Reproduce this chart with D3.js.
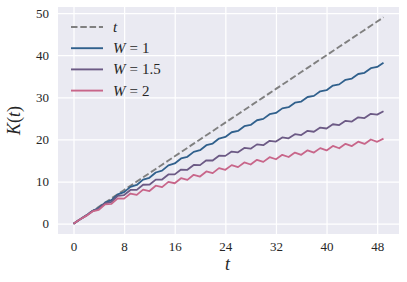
<!DOCTYPE html>
<html><head><meta charset="utf-8">
<script src="https://cdn.jsdelivr.net/npm/d3@7"></script>
<style>
html,body{margin:0;padding:0;background:#fff;}
svg text{font-family:"Liberation Serif","DejaVu Serif",serif;fill:#262626;}
</style></head>
<body><svg id="c" width="407" height="282"></svg>
<script>
const tValues = d3.range(0, 50);
const xTicks = [0, 8, 16, 24, 32, 40, 48];
const yTicks = [0, 10, 20, 30, 40, 50];
const seriesNames = ["t", "W = 1", "W = 1.5", "W = 2"];
const refLine = [0, 1,2,3,4,5,6,7,8,9,10,11,12,13,14,15,16,17,18,19,20,21,22,23,24,25,26,27,28,29,30,31,32,33,34,35,36,37,38,39,40,41,42,43,44,45,46,47,48,49];
const w1 = [0,1.0,1.95,3.0,3.8,5.0,5.6,6.95,7.5,8.75,9.2,10.45,10.9,12.15,12.6,13.85,14.3,15.49,15.88,17.06,17.45,18.64,19.03,20.21,20.6,21.71,22.03,23.14,23.45,24.56,24.88,25.99,26.3,27.38,27.65,28.73,29.0,30.08,30.35,31.43,31.7,32.79,33.08,34.17,34.46,35.54,35.83,36.92,37.21,38.2];
const w15 = [0,1.0,1.9,3.0,3.6,4.85,5.2,6.6,6.8,8.01,8.03,9.24,9.25,10.46,10.48,11.69,11.7,12.85,12.8,13.95,13.9,15.05,15.0,16.15,16.1,17.13,16.95,17.98,17.8,18.83,18.65,19.68,19.5,20.49,20.28,21.26,21.05,22.04,21.83,22.81,22.6,23.61,23.42,24.43,24.24,25.26,25.07,26.08,25.89,26.7];
const w2 = [0,1.0,1.85,2.9,3.3,4.6,4.7,6.0,5.95,7.16,6.83,8.09,7.75,9.01,8.68,9.94,9.6,10.8,10.4,11.6,11.2,12.4,12.0,13.2,12.8,13.91,13.43,14.54,14.05,15.16,14.68,15.79,15.3,16.36,15.83,16.89,16.35,17.41,16.88,17.94,17.4,18.46,17.91,18.97,18.42,19.48,18.93,19.99,19.44,20.2];

const colors = ["#808080", "#30608c", "#6c5a85", "#c8668a"];
const series = [refLine, w1, w15, w2];

const L = 58, R = 399, T = 7, B = 234;
const svg = d3.select("#c");
const x = d3.scaleLinear().domain([-2.45, 51.45]).range([L, R]);
const y = d3.scaleLinear().domain([-2.45, 51.45]).range([B, T]);

svg.append("rect").attr("x", L).attr("y", T).attr("width", R - L).attr("height", B - T).attr("fill", "#EAEAF2");

const gx = svg.append("g").attr("transform", `translate(0,${B})`)
  .call(d3.axisBottom(x).tickValues(xTicks).tickSize(-(B - T)).tickPadding(8));
const gy = svg.append("g").attr("transform", `translate(${L},0)`)
  .call(d3.axisLeft(y).tickValues(yTicks).tickSize(-(R - L)).tickPadding(9));
[gx, gy].forEach(g => {
  g.select(".domain").remove();
  g.selectAll(".tick line").attr("stroke", "#fff").attr("stroke-width", 1.25);
  g.selectAll(".tick text").style("font-size", "13px").attr("fill", "#262626");
});

const line = d3.line().x((d, i) => x(tValues[i])).y(d => y(d));
series.forEach((s, k) => {
  svg.append("path").datum(s).attr("d", line).attr("fill", "none")
    .attr("stroke", colors[k]).attr("stroke-width", k === 0 ? 1.9 : 1.8)
    .attr("stroke-linejoin", "round")
    .attr("stroke-dasharray", k === 0 ? "6.5,2.8" : null);
});

// legend
const leg = svg.append("g");
seriesNames.forEach((name, k) => {
  const yy = 27 + k * 21.2;
  leg.append("line").attr("x1", 71).attr("x2", 103).attr("y1", yy).attr("y2", yy)
    .attr("stroke", colors[k]).attr("stroke-width", 1.9)
    .attr("stroke-dasharray", k === 0 ? "6.5,2.8" : null);
  const t = leg.append("text").attr("x", 113).attr("y", yy + 5).style("font-size", "15px");
  if (k === 0) {
    t.append("tspan").style("font-style", "italic").text("t");
  } else {
    const parts = name.split(" = ");
    t.append("tspan").style("font-style", "italic").text("W");
    t.append("tspan").attr("dx", 4).text("=");
    t.append("tspan").attr("dx", 4).text(parts[1]);
  }
});

// axis labels
const xl = svg.append("text").attr("x", (L + R) / 2 - 1).attr("y", 270).attr("text-anchor", "middle").style("font-size", "18px");
xl.append("tspan").style("font-style", "italic").text("t");
const yl = svg.append("text").attr("transform", `translate(20,${(T + B) / 2}) rotate(-90)`).attr("text-anchor", "middle").style("font-size", "18px");
yl.append("tspan").style("font-style", "italic").text("K");
yl.append("tspan").text("(");
yl.append("tspan").style("font-style", "italic").text("t");
yl.append("tspan").text(")");
</script></body></html>
